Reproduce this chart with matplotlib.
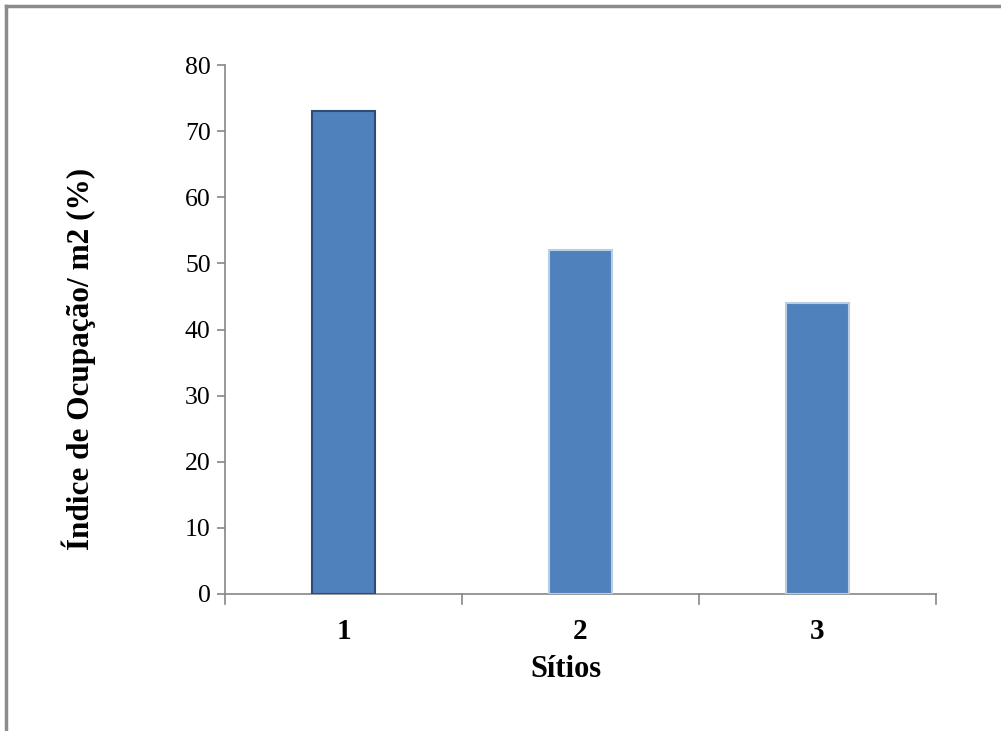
import matplotlib.pyplot as plt
from matplotlib.lines import Line2D
import numpy as np

sitios = ['1', '2', '3']
ocupacao = [73, 52, 44]
yticks = [0, 10, 20, 30, 40, 50, 60, 70, 80]

plt.rcParams['font.family'] = ['Liberation Serif', 'DejaVu Serif']

W, H = 1001, 731
fig = plt.figure(figsize=(W / 100, H / 100), dpi=100)
ax = fig.add_axes([225 / W, 1 - 594 / H, (936 - 225) / W, (594 - 65) / H])

ind = np.arange(len(sitios))
edges = ['#2C4D75', '#B9CDE5', '#B9CDE5']
ax.bar(ind, ocupacao, width=0.27, color='#4F81BD', edgecolor=edges, linewidth=1.5, zorder=3)

ax.set_xlim(-0.5, len(sitios) - 0.5)
ax.set_ylim(0, 80)
ax.set_yticks(yticks)
ax.set_yticklabels([str(t) for t in yticks], fontsize=18.5)
ax.set_xticks(ind)
ax.set_xticklabels(sitios, fontsize=21, fontweight='bold')
ax.tick_params(axis='x', length=0, pad=17)
ax.tick_params(axis='y', length=6, color='#868686', width=1.2, pad=4.3, direction='out')

# category separators on x axis
for xs in np.arange(-0.5, len(sitios), 1.0):
    ax.plot([xs, xs], [0, -1.5], color='#868686', lw=1.2, clip_on=False, zorder=4)

for side in ['top', 'right']:
    ax.spines[side].set_visible(False)
for side in ['left', 'bottom']:
    ax.spines[side].set_color('#868686')
    ax.spines[side].set_linewidth(1.2)

# axis titles placed where the original puts them
fig.text(565.5 / W, 1 - 677 / H, 'Sítios', fontsize=22, fontweight='bold',
         ha='center', va='baseline')
fig.text(79 / W, 1 - 359 / H, 'Índice de Ocupação/ m2 (%)', fontsize=22.5,
         fontweight='bold', rotation=90, ha='center', va='center')

# outer frame (only top and left visible)
fig.add_artist(Line2D([6 / W, 6 / W], [0, 1 - 6 / H], color='#8C8C8C', lw=2.5))
fig.add_artist(Line2D([6 / W, 1], [1 - 6 / H, 1 - 6 / H], color='#8C8C8C', lw=2.5))

fig.savefig('out.png', dpi=100)
